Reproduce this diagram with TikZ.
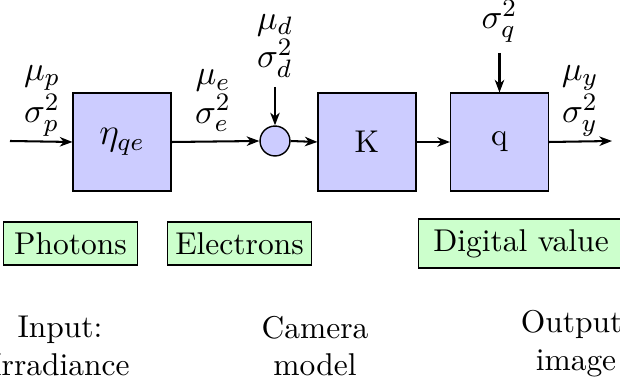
\documentclass[tikz,border=0pt]{standalone}
\usetikzlibrary{arrows.meta}
\definecolor{blockblue}{RGB}{204,204,255}
\definecolor{tagGreen}{RGB}{204,255,204}
\tikzset{
  block/.style={draw, line width=0.45pt, fill=blockblue, minimum size=31pt, inner sep=0pt},
  sumnode/.style={draw, line width=0.45pt, fill=blockblue, circle, minimum size=9.5pt, inner sep=0pt},
  tag/.style={draw, line width=0.45pt, fill=tagGreen, inner sep=0pt, minimum height=13.7pt},
  sig/.style={align=center, inner sep=0pt, font=\fontsize{11}{10.5}\selectfont},
  caption/.style={align=center, inner sep=0pt},
  flow/.style={line width=0.65pt, -{Stealth[length=4pt,width=3pt,inset=1.2pt]}}
}
\begin{document}
\begin{tikzpicture}[x=0.3175pt, y=-0.3175pt]
  \useasboundingbox (0,0) rectangle (620,377);

  % signal chain
  \node[block] (qe) at (122,142) {\large$\eta_{qe}$};
  \node[sumnode] (sum) at (275,141) {};
  \node[block] (K) at (367,142) {K};
  \node[block] (q) at (499.5,142) {q};

  \coordinate (in) at (10,141);
  \coordinate (out) at (612,141);
  \coordinate (dark) at (275,87);
  \coordinate (quant) at (499.5,53);

  \draw[flow] (in) -- (qe.west);
  \draw[flow] (qe.east) -- (sum.west);
  \draw[flow] (dark) -- (sum.north);
  \draw[flow] (sum.east) -- (K.west);
  \draw[flow] (K.east) -- (q.west);
  \draw[flow] (quant) -- (q.north);
  \draw[flow] (q.east) -- (out);

  % signal statistics
  \node[sig] (sp) at (42,101) {$\mu_p$\\$\sigma_p^2$};
  \node[sig] (se) at (213,101) {$\mu_e$\\$\sigma_e^2$};
  \node[sig] (sd) at (275,46) {$\mu_d$\\$\sigma_d^2$};
  \node[sig] (sq) at (499.5,21) {$\sigma_q^2$};
  \node[sig] (sy) at (580,101) {$\mu_y$\\$\sigma_y^2$};

  % signal domains
  \node[tag, minimum width=42.6pt] (photons) at (70.5,243.5) {Photons};
  \node[tag, minimum width=45.7pt] (electrons) at (239.5,243.5) {Electrons};
  \node[tag, minimum width=65pt, minimum height=15.6pt] (digital) at (521,243.5) {Digital value};

  % stages
  \node[caption] (input) at (60,346) {Input:\\Irradiance};
  \node[caption] (camera) at (315,346) {Camera\\model};
  \node[caption] (output) at (576,344) {Output:\\image};
\end{tikzpicture}
\end{document}
